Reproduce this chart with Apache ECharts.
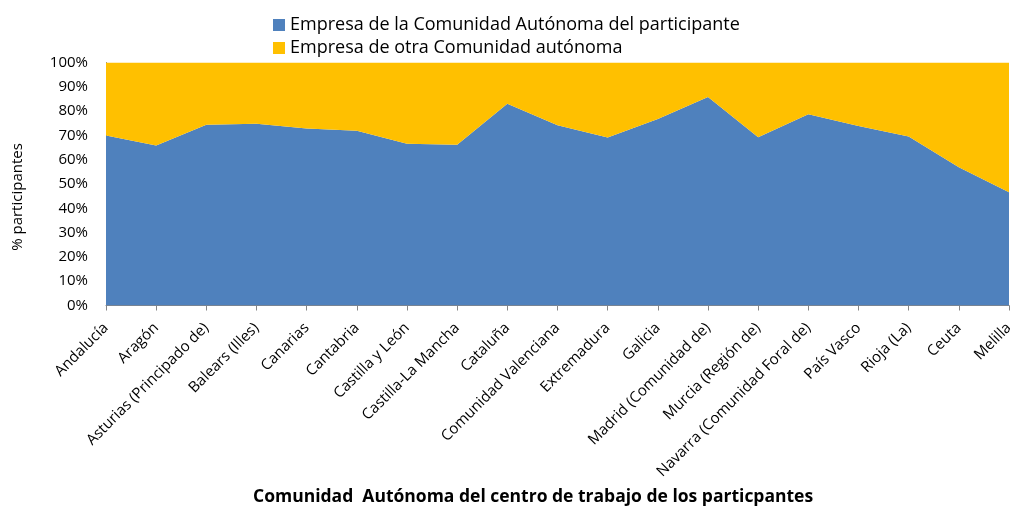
<!DOCTYPE html>
<html>
<head>
<meta charset="utf-8">
<script src="https://cdn.jsdelivr.net/npm/echarts@6/dist/echarts.min.js"></script>
<style>
  html, body { margin: 0; padding: 0; background: #fff; }
  #main { width: 1010px; height: 509px; }
</style>
</head>
<body>
<div id="main"></div>
<script>
// comunidades autónomas (eje x)
var regions = ['Andalucía', 'Aragón', 'Asturias (Principado de)', 'Balears (Illes)', 'Canarias',
    'Cantabria', 'Castilla y León', 'Castilla-La Mancha', 'Cataluña', 'Comunidad Valenciana',
    'Extremadura', 'Galicia', 'Madrid (Comunidad de)', 'Murcia (Región de)',
    'Navarra (Comunidad Foral de)', 'País Vasco', 'Rioja (La)', 'Ceuta', 'Melilla'];
// % empresa de la misma comunidad
var sameRegion = [70.0, 65.8, 74.4, 74.8, 72.8, 71.9, 66.6, 66.2, 83.0, 74.2,
    69.1, 76.7, 85.8, 69.2, 78.7, 73.9, 69.5, 56.9, 46.6];
// % empresa de otra comunidad
var otherRegion = [30.0, 34.2, 25.6, 25.2, 27.2, 28.1, 33.4, 33.8, 17.0, 25.8,
    30.9, 23.3, 14.2, 30.8, 21.3, 26.1, 30.5, 43.1, 53.4];
var yTicks = [0, 10, 20, 30, 40, 50, 60, 70, 80, 90, 100];

var font = 'Open Sans';
var chart = echarts.init(document.getElementById('main'));
chart.setOption({
    animation: false,
    textStyle: { fontFamily: font, color: '#000' },
    legend: {
        orient: 'vertical',
        left: 268,
        top: 11,
        itemWidth: 12,
        itemHeight: 12,
        itemGap: 5,
        icon: 'rect',
        textStyle: { fontSize: 18, color: '#000', fontFamily: font },
        data: ['Empresa de la Comunidad Autónoma del participante', 'Empresa de otra Comunidad autónoma']
    },
    grid: { left: 106, right: 1, top: 62.5, bottom: 203.5, outerBoundsMode: 'none' },
    graphic: [
        {
            type: 'text', left: 253, top: 488,
            style: {
                text: 'Comunidad  Autónoma del centro de trabajo de los particpantes',
                font: 'bold 17.5px "Open Sans"', fill: '#000'
            }
        },
        {
            type: 'text', x: 18, y: 197, rotation: Math.PI / 2,
            style: {
                text: '% participantes', font: '15px "Open Sans"', fill: '#000',
                align: 'center', verticalAlign: 'middle'
            }
        }
    ],
    xAxis: {
        type: 'category',
        data: regions,
        boundaryGap: false,
        axisLine: { lineStyle: { color: '#868686', width: 1 } },
        axisTick: { show: true, length: 5, alignWithLabel: true, lineStyle: { color: '#868686' } },
        axisLabel: { rotate: 45, fontSize: 15, color: '#000', margin: 20, interval: 0 }
    },
    yAxis: {
        type: 'value',
        min: 0,
        max: 100,
        interval: 10,
        axisLine: { show: true, lineStyle: { color: '#868686', width: 1 } },
        axisTick: { show: false },
        splitLine: { show: false },
        axisLabel: {
            fontSize: 15, color: '#000', margin: 18,
            formatter: function (v) { return yTicks.indexOf(v) >= 0 ? v + '%' : ''; }
        }
    },
    series: [
        {
            name: 'Empresa de la Comunidad Autónoma del participante',
            type: 'line',
            stack: 'total',
            data: sameRegion,
            symbol: 'none',
            lineStyle: { width: 0 },
            areaStyle: { color: '#4F81BD', opacity: 1 },
            itemStyle: { color: '#4F81BD' }
        },
        {
            name: 'Empresa de otra Comunidad autónoma',
            type: 'line',
            stack: 'total',
            data: otherRegion,
            symbol: 'none',
            lineStyle: { width: 0 },
            areaStyle: { color: '#FFC000', opacity: 1 },
            itemStyle: { color: '#FFC000' }
        }
    ]
});
</script>
</body>
</html>
